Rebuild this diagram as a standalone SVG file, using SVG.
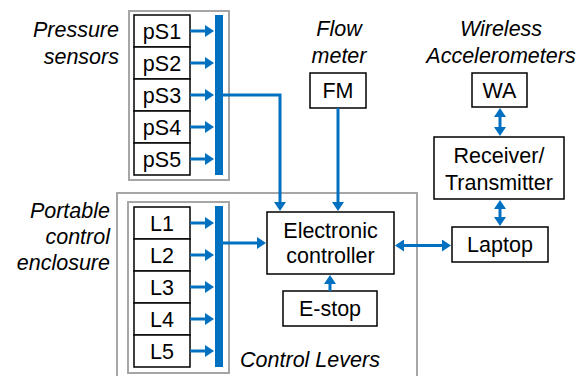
<svg xmlns="http://www.w3.org/2000/svg" width="581" height="376" viewBox="0 0 581 376">
  <defs>
    <style>
      .grp { fill: none; stroke: #A6A6A6; stroke-width: 2; }
      .box { fill: #FFFFFF; stroke: #000000; stroke-width: 1.5; }
      .bus { fill: #0070C0; }
      .wire { fill: none; stroke: #0070C0; stroke-width: 3; }
      .t { font-family: "Liberation Sans", Arial, sans-serif; font-size: 21.5px; fill: #000000; text-anchor: middle; }
      .lbl { font-family: "Liberation Sans", Arial, sans-serif; font-size: 21.5px; font-style: italic; fill: #000000; }
    </style>
    <marker id="ah" viewBox="0 0 9 12" refX="1" refY="6" markerWidth="9" markerHeight="12" markerUnits="userSpaceOnUse" orient="auto-start-reverse">
      <path d="M0,0 L9,6 L0,12 Z" fill="#0070C0"/>
    </marker>
  </defs>

  <!-- enclosure outlines -->
  <rect class="grp" x="117" y="193" width="300" height="200"/>
  <rect class="grp" x="129" y="11" width="100" height="169"/>
  <rect class="grp" x="128" y="202" width="101" height="171"/>

  <!-- italic group labels -->
  <g id="labels">
    <text class="lbl" x="119" y="37" text-anchor="end">Pressure</text>
    <text class="lbl" x="119" y="63.5" text-anchor="end">sensors</text>
    <text class="lbl" x="110" y="218" text-anchor="end">Portable</text>
    <text class="lbl" x="110" y="244" text-anchor="end">control</text>
    <text class="lbl" x="110" y="270" text-anchor="end">enclosure</text>
    <text class="lbl" x="339" y="36" text-anchor="middle">Flow</text>
    <text class="lbl" x="339" y="63" text-anchor="middle">meter</text>
    <text class="lbl" x="501" y="36" text-anchor="middle">Wireless</text>
    <text class="lbl" x="501" y="63" text-anchor="middle">Accelerometers</text>
    <text class="lbl" x="310" y="367" text-anchor="middle">Control Levers</text>
  </g>

  <!-- pressure sensors -->
  <g id="pS1"><rect class="box" x="134" y="15" width="56" height="32"/><text class="t" x="162" y="38.5">pS1</text></g>
  <g id="pS2"><rect class="box" x="134" y="47" width="56" height="32"/><text class="t" x="162" y="70.5">pS2</text></g>
  <g id="pS3"><rect class="box" x="134" y="79" width="56" height="32"/><text class="t" x="162" y="102.5">pS3</text></g>
  <g id="pS4"><rect class="box" x="134" y="111" width="56" height="32"/><text class="t" x="162" y="134.5">pS4</text></g>
  <g id="pS5"><rect class="box" x="134" y="143" width="56" height="32"/><text class="t" x="162" y="166.5">pS5</text></g>
  <rect id="pS-bus" class="bus" x="215" y="15" width="8" height="160"/>

  <!-- control levers -->
  <g id="L1"><rect class="box" x="134" y="207" width="56" height="32"/><text class="t" x="162" y="230.5">L1</text></g>
  <g id="L2"><rect class="box" x="134" y="239" width="56" height="32"/><text class="t" x="162" y="262.5">L2</text></g>
  <g id="L3"><rect class="box" x="134" y="271" width="56" height="32"/><text class="t" x="162" y="294.5">L3</text></g>
  <g id="L4"><rect class="box" x="134" y="303" width="56" height="32"/><text class="t" x="162" y="326.5">L4</text></g>
  <g id="L5"><rect class="box" x="134" y="335" width="56" height="32"/><text class="t" x="162" y="358.5">L5</text></g>
  <rect id="L-bus" class="bus" x="215" y="206" width="8" height="161"/>

  <!-- devices -->
  <g id="FM"><rect class="box" x="310" y="73" width="56" height="35"/><text class="t" x="338" y="98">FM</text></g>
  <g id="WA"><rect class="box" x="472" y="73" width="55" height="34"/><text class="t" x="499.5" y="98">WA</text></g>
  <g id="receiver"><rect class="box" x="434" y="137" width="130" height="62"/>
    <text class="t" x="499" y="163">Receiver/</text><text class="t" x="499" y="190">Transmitter</text></g>
  <g id="controller"><rect class="box" x="267" y="212" width="127" height="62"/>
    <text class="t" x="330.5" y="237.5">Electronic</text><text class="t" x="330.5" y="263">controller</text></g>
  <g id="estop"><rect class="box" x="283" y="291" width="94" height="35"/><text class="t" x="330" y="316">E-stop</text></g>
  <g id="laptop"><rect class="box" x="452" y="227" width="96" height="35"/><text class="t" x="500" y="252">Laptop</text></g>

  <!-- connectors -->
  <g id="connectors">
    <path class="wire" d="M190,31 H206" marker-end="url(#ah)"/>
    <path class="wire" d="M190,63 H206" marker-end="url(#ah)"/>
    <path class="wire" d="M190,95 H206" marker-end="url(#ah)"/>
    <path class="wire" d="M190,127 H206" marker-end="url(#ah)"/>
    <path class="wire" d="M190,159 H206" marker-end="url(#ah)"/>
    <path class="wire" d="M190,223 H206" marker-end="url(#ah)"/>
    <path class="wire" d="M190,255 H206" marker-end="url(#ah)"/>
    <path class="wire" d="M190,287 H206" marker-end="url(#ah)"/>
    <path class="wire" d="M190,319 H206" marker-end="url(#ah)"/>
    <path class="wire" d="M190,351 H206" marker-end="url(#ah)"/>
    <path class="wire" d="M223,95 H280 V203" marker-end="url(#ah)"/>
    <path class="wire" d="M338,108 V203" marker-end="url(#ah)"/>
    <path class="wire" d="M223,243 H258" marker-end="url(#ah)"/>
    <path class="wire" d="M330,291 V283" marker-end="url(#ah)"/>
    <path class="wire" d="M403,245.5 H443" marker-start="url(#ah)" marker-end="url(#ah)"/>
    <path class="wire" d="M500,116 V128" marker-start="url(#ah)" marker-end="url(#ah)"/>
    <path class="wire" d="M500,208 V218" marker-start="url(#ah)" marker-end="url(#ah)"/>
  </g>
</svg>
